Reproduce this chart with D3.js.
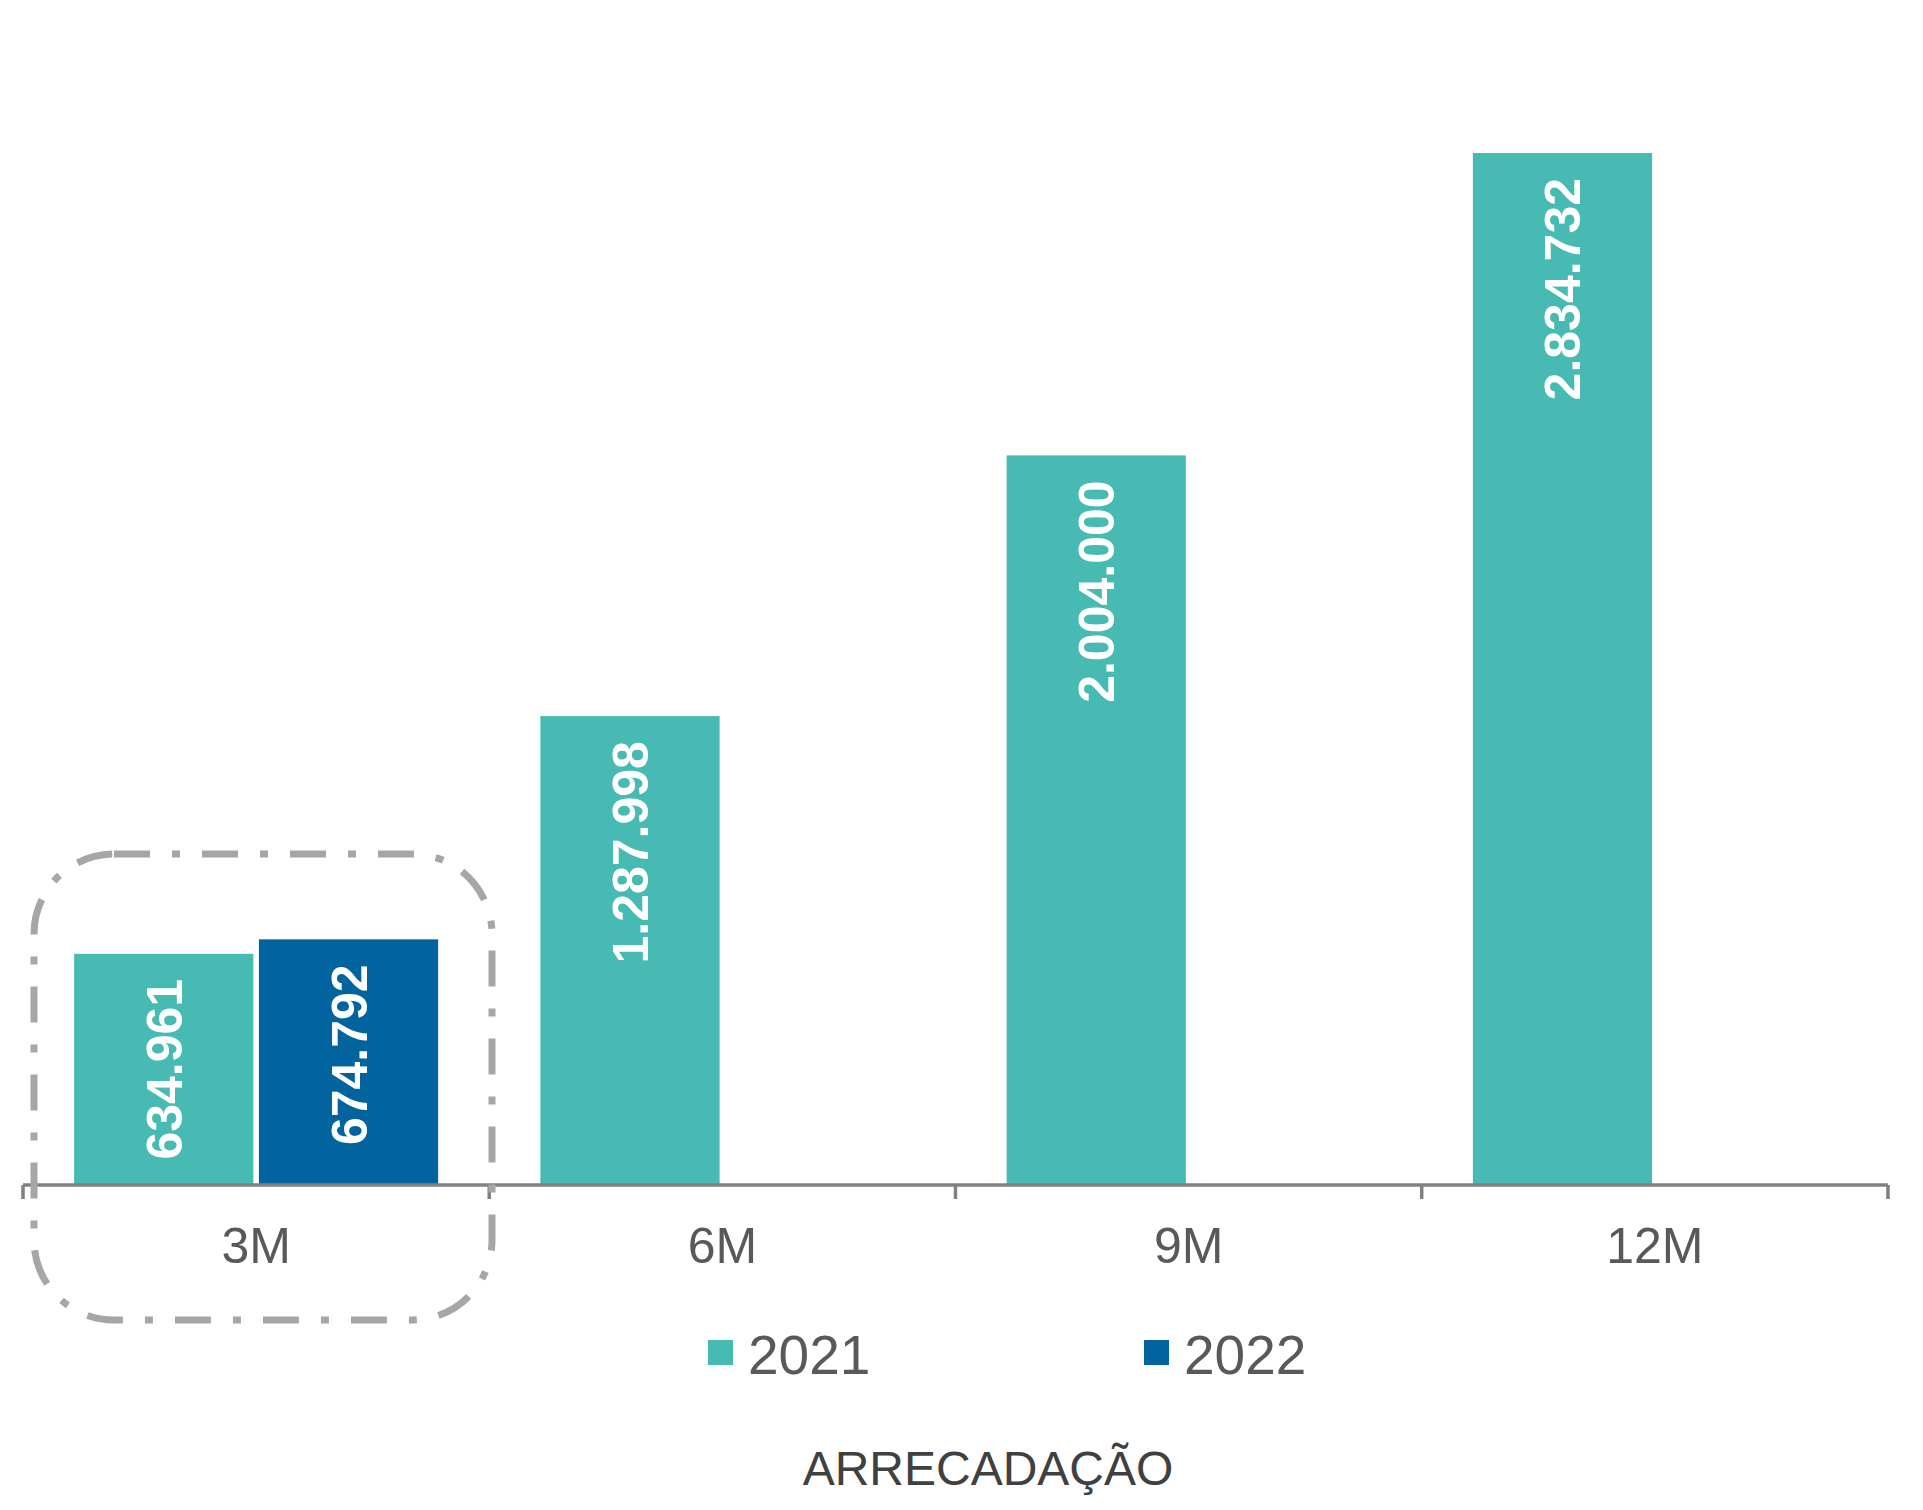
<!DOCTYPE html>
<html>
<head>
<meta charset="utf-8">
<script src="https://cdn.jsdelivr.net/npm/d3@7"></script>
<style>
  body { margin: 0; background: #fff; }
  svg { display: block; }
</style>
</head>
<body>
<div id="container"></div>
<script>
const categories = ["3M", "6M", "9M", "12M"]
const seriesNames = ["2021", "2022"]
const values2021 = [634961, 1287998, 2004000, 2834732]
const values2022 = [674792, null, null, null]
const colors = ["#47bab3", "#02649e"]
const title = "ARRECADAÇÃO"

const width = 1923
const height = 1510
const axisY = 1185

const br = d3.formatLocale({ decimal: ",", thousands: ".", grouping: [3], currency: ["", ""] })
const fmt = br.format(",d")

const svg = d3.create("svg")
    .attr("width", width)
    .attr("height", height)
    .style("font-family", "'Liberation Sans', Arial, sans-serif")

const x0 = d3.scaleBand()
    .domain(categories)
    .range([23, 1888])
    .paddingInner(0.2193)
    .paddingOuter(0.1097)

const x1 = d3.scaleBand()
    .domain(seriesNames)
    .range([0, x0.bandwidth()])
    .paddingInner(0.03)

const y = d3.scaleLinear()
    .domain([0, 3000000])
    .range([axisY, axisY - 3000000 * 0.00036406])

const rows = []
categories.forEach((c, i) => {
    rows.push({ cat: c, s: "2021", v: values2021[i], color: colors[0] })
    if (values2022[i] != null) rows.push({ cat: c, s: "2022", v: values2022[i], color: colors[1] })
})

// bars
svg.append("g")
    .selectAll("rect")
    .data(rows)
    .join("rect")
    .attr("x", d => x0(d.cat) + x1(d.s))
    .attr("y", d => y(d.v))
    .attr("width", x1.bandwidth())
    .attr("height", d => axisY - y(d.v))
    .attr("fill", d => d.color)

// value labels, rotated
const labelSize = 50
const labels = svg.append("g")
    .selectAll("text")
    .data(rows)
    .join("text")
    .attr("fill", "#fff")
    .attr("font-weight", "bold")
    .attr("font-size", labelSize)
    .attr("dy", "0.36em")
    .text(d => fmt(d.v))

labels.each(function(d) {
    const len = this.getComputedTextLength()
    const h = axisY - y(d.v)
    const cx = x0(d.cat) + x1(d.s) + x1.bandwidth() / 2
    const t = d3.select(this)
    if (h < len + 60) {
        t.attr("text-anchor", "middle")
         .attr("transform", `translate(${cx},${y(d.v) + h / 2}) rotate(-90)`)
    } else {
        t.attr("text-anchor", "end")
         .attr("transform", `translate(${cx},${y(d.v) + 25}) rotate(-90)`)
    }
})

// axis line with ticks at category boundaries
const r = x0.range()
const step = x0.step()
const bounds = d3.range(categories.length + 1).map(i => r[0] + i * step)
const axis = svg.append("g")
axis.append("line")
    .attr("x1", r[0]).attr("x2", r[1])
    .attr("y1", axisY).attr("y2", axisY)
    .attr("stroke", "#808080")
    .attr("stroke-width", 3.5)
axis.selectAll(".tick")
    .data(bounds)
    .join("line")
    .attr("class", "tick")
    .attr("x1", d => d).attr("x2", d => d)
    .attr("y1", axisY).attr("y2", axisY + 14)
    .attr("stroke", "#808080")
    .attr("stroke-width", 3.5)
axis.selectAll("text")
    .data(categories)
    .join("text")
    .attr("x", d => x0(d) + x0.bandwidth() / 2)
    .attr("y", 1263)
    .attr("text-anchor", "middle")
    .attr("font-size", 50)
    .attr("fill", "#595959")
    .text(d => d)

// highlight box around 3M
svg.append("rect")
    .attr("x", 34)
    .attr("y", 854)
    .attr("width", 458)
    .attr("height", 466)
    .attr("rx", 80)
    .attr("fill", "none")
    .attr("stroke", "#a6a6a6")
    .attr("stroke-width", 7)
    .attr("stroke-dasharray", "36 22 8 22")

// legend
const legendX = [708, 1144]
const legend = svg.append("g")
    .selectAll("g")
    .data(seriesNames)
    .join("g")
    .attr("transform", (d, i) => `translate(${legendX[i]},0)`)
legend.append("rect")
    .attr("x", 0).attr("y", 1340)
    .attr("width", 25).attr("height", 25)
    .attr("fill", (d, i) => colors[i])
legend.append("text")
    .attr("x", 40).attr("y", 1374)
    .attr("font-size", 55)
    .attr("fill", "#595959")
    .text(d => d)

svg.append("text")
    .attr("x", 988)
    .attr("y", 1485)
    .attr("text-anchor", "middle")
    .attr("font-size", 48)
    .attr("fill", "#404040")
    .text(title)

document.querySelector("#container").appendChild(svg.node())
</script>
</body>
</html>
